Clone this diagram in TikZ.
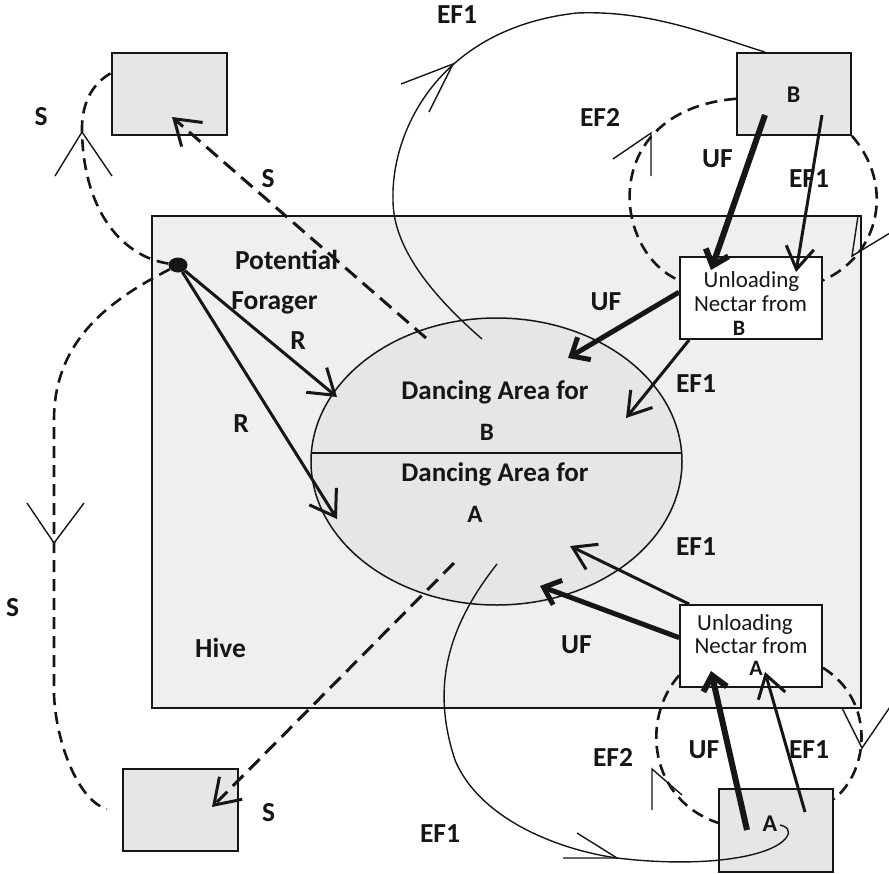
\documentclass[tikz,border=0pt]{standalone}
\usepackage{fontspec}
\setmainfont{Carlito}
\usetikzlibrary{arrows.meta,shapes.geometric,calc}
\definecolor{ink}{HTML}{161616}
\definecolor{hivefill}{HTML}{EFEFEF}
\definecolor{areafill}{HTML}{E6E6E6}
\begin{document}
\begin{tikzpicture}[x=1pt,y=-1pt,
  lbl/.style={font=\bfseries\fontsize{27.5}{30}\selectfont, inner sep=0pt, anchor=base, text=ink},
  dlbl/.style={font=\bfseries\fontsize{27}{30}\selectfont, inner sep=0pt, anchor=base, text=ink},
  letterlbl/.style={font=\bfseries\fontsize{24}{26}\selectfont, inner sep=0pt, anchor=base, text=ink},
  ulbl/.style={font=\fontsize{23}{25}\selectfont, inner sep=0pt, anchor=base, text=ink},
  hivebox/.style={draw=ink, line width=2pt, fill=hivefill, minimum width=709pt, minimum height=492pt, inner sep=0pt},
  srcbox/.style={draw=ink, line width=1.8pt, fill=areafill, minimum width=115pt, minimum height=82pt, inner sep=0pt},
  unlbox/.style={draw=ink, line width=1.8pt, fill=white, minimum width=142pt, minimum height=82pt, inner sep=0pt},
  dancearea/.style={ellipse, draw=ink, line width=1.5pt, fill=areafill, minimum width=371pt, minimum height=287pt, inner sep=0pt},
  thinline/.style={draw=ink, line width=1.4pt},
  sdash/.style={draw=ink, line width=3pt, dash pattern=on 15pt off 8pt},
  loopdash/.style={draw=ink, line width=2.6pt, dash pattern=on 12pt off 7pt},
  heavy/.style={draw=ink, line width=6pt, -{Straight Barb[length=14pt,width=24pt]}},
  heavier/.style={draw=ink, line width=5pt, -{Straight Barb[length=15pt,width=26pt]}},
  medium/.style={draw=ink, line width=3pt, -{Straight Barb[length=22pt,width=28pt]}},
  rarrow/.style={draw=ink, line width=3pt, -{Straight Barb[length=24pt,width=32pt]}},
  sarrow/.style={sdash, -{Straight Barb[length=24pt,width=32pt,line width=3pt]}}
]
\useasboundingbox (0,0) rectangle (889,873);

% hive and dancing area
\node[hivebox] (hive) at (506.5,462) {};
\node[dancearea] (dance) at (496.5,461.5) {};
\coordinate (divL) at (311.3,453);
\coordinate (divR) at (681.7,453);
\draw[thinline, line width=1.5pt] (divL) -- (divR);

% labels
\node[dlbl] (dab) at (495,399) {Dancing Area for};
\node[letterlbl, font=\bfseries\fontsize{25}{27}\selectfont] (db) at (487,440) {B};
\node[dlbl] (daa) at (495,481) {Dancing Area for};
\node[letterlbl, font=\bfseries\fontsize{25}{27}\selectfont] (dA) at (475,522) {A};
\node[lbl] (pot) at (286.5,269) {Potential};
\node[lbl] (forg) at (274.5,309) {Forager};
\node[lbl] (r1l) at (298,349) {R};
\node[lbl] (r2l) at (241,432) {R};
\node[lbl] (s1l) at (41,125) {S};
\node[lbl] (s2l) at (268,187) {S};
\node[lbl] (s3l) at (12.5,616) {S};
\node[lbl] (s4l) at (268.5,821) {S};
\node[lbl] (hivel) at (220.5,657) {Hive};
\node[lbl] (ef1top) at (457,23) {EF1};
\node[lbl] (ef2b) at (600,126) {EF2};
\node[lbl] (ufb) at (717.5,167) {UF};
\node[lbl] (ef1b) at (809,187) {EF1};
\node[lbl] (ufbd) at (606,310) {UF};
\node[lbl] (ef1bd) at (696,392) {EF1};
\node[lbl] (ef1ad) at (696,555) {EF1};
\node[lbl] (ufad) at (576.5,653) {UF};
\node[lbl] (ef2a) at (613,766) {EF2};
\node[lbl] (ufa) at (704,758) {UF};
\node[lbl] (ef1a) at (809,758) {EF1};
\node[lbl] (ef1bot) at (440,842) {EF1};

% boxes
\node[srcbox] (boxTL) at (169.5,94) {};
\node[srcbox] (boxBL) at (180.5,810) {};
\node[srcbox, minimum width=114pt] (boxB) at (794,94) {};
\node[srcbox, minimum width=114pt, minimum height=83pt] (boxA) at (776,830.5) {};
\node[letterlbl] (bl) at (793.5,102) {B};
\node[letterlbl] (al) at (770,831) {A};
\node[unlbox] (unlB) at (751,298) {};
\node[unlbox] (unlA) at (751,646) {};
\node[ulbl] (ub1) at (751.5,287) {Unloading};
\node[ulbl] (ub2) at (750.5,311) {Nectar from};
\node[letterlbl, font=\bfseries\fontsize{22}{24}\selectfont] (ub3) at (739,335) {B};
\node[ulbl] (ua1) at (745,630) {Unloading};
\node[ulbl] (ua2) at (751,653) {Nectar from};
\node[letterlbl, font=\bfseries\fontsize{22}{24}\selectfont] (ua3) at (756,675) {A};

% potential forager dot
\node[ellipse, fill=ink, minimum width=19pt, minimum height=15pt, inner sep=0pt] (dot) at (178,265) {};

% ---- EF1 curve from dancing area to B
\coordinate (eftS) at (482,339);
\coordinate (eftM) at (393,200);
\coordinate (eftT) at (577,13);
\coordinate (eftE) at ($(boxB.north west)!0.25!(boxB.north east)$);
\draw[thinline] (eftS) .. controls (420,285) and (393,240) .. (eftM)
  .. controls (391,130) and (440,28) .. (eftT)
  .. controls (650,10) and (710,35) .. (eftE);
\coordinate (h3) at (453,64);
\draw[thinline] (401,84) -- (h3) -- (429,112);

% ---- EF1 curve from dancing area to A
\coordinate (efbS) at (497,564);
\coordinate (efbM) at (455,760);
\coordinate (efbH) at (617,858);
\coordinate (efbK) at (786,838);
\coordinate (efbE) at (780,825);
\draw[thinline] (efbS) .. controls (445,630) and (432,690) .. (efbM)
  .. controls (480,820) and (560,850) .. (efbH)
  .. controls (700,868) and (770,858) .. (efbK)
  .. controls (792,830) and (786,826) .. (efbE);
\draw[thinline] (577,833) -- (efbH) -- (563,858);

% ---- EF2 loop around B
\coordinate (bLE) at ($(unlB.north west)!0.29!(unlB.south west)$);
\coordinate (bRE) at ($(unlB.north east)!0.29!(unlB.south east)$);
\draw[loopdash] (boxB) .. controls (600,110) and (610,250) .. (bLE);
\draw[loopdash] (boxB.south east) .. controls (895,185) and (880,255) .. (bRE);
\coordinate (h5) at (651,133);
\draw[thinline] (613,159) -- (h5) -- (651,176);
\coordinate (h6) at (852,256);
\draw[thinline] (858,216) -- (h6) -- (890,233);

% ---- EF2 loop around A
\coordinate (aLS) at ($(unlA.north west)!0.85!(unlA.south west)$);
\coordinate (aLE) at ($(boxA.north west)!0.41!(boxA.south west)$);
\coordinate (aRS) at ($(unlA.north east)!0.76!(unlA.south east)$);
\coordinate (aRE) at ($(boxA.north east)!0.13!(boxA.south east)$);
\draw[loopdash] (aLS) .. controls (640,720) and (650,800) .. (aLE);
\draw[loopdash] (aRS) .. controls (875,700) and (870,770) .. (aRE);
\coordinate (h7) at (652,769);
\draw[thinline] (652,810) -- (h7) -- (682,795);
\coordinate (h8) at (862,748);
\draw[thinline] (842,708) -- (h8) -- (890,707);

% ---- scout loops (S)
\coordinate (tlE) at ($(boxTL.north west)!0.25!(boxTL.south west)$);
\coordinate (tlM) at (82,132);
\draw[loopdash] (dot) .. controls (125,257) and (84,215) .. (tlM)
  .. controls (81,100) and (95,82) .. (tlE);
\draw[thinline] (55,176) -- (tlM) -- (112,176);

\coordinate (llA) at (54,420);
\coordinate (llB) at (54,683);
\coordinate (llE) at (107,809);
\draw[loopdash] (dot) .. controls (110,300) and (54,340) .. (llA) -- (llB)
  .. controls (52,730) and (75,800) .. (llE);
\coordinate (h2) at (54,543);
\draw[thinline] (27,503) -- (h2) -- (84,503);

% ---- dashed S arrows from dancing area to sites
\coordinate (s1S) at (426,338);
\coordinate (s1E) at (172,117);
\coordinate (s2S) at (454,563);
\coordinate (s2E) at (212,807);
\draw[sarrow] (s1S) -- (s1E);
\draw[sarrow] (s2S) -- (s2E);

% ---- recruitment arrows
\coordinate (r1E) at (337,397);
\coordinate (r2E) at (337,519);
\draw[rarrow] (dot) -- (r1E);
\draw[rarrow] (dot) -- (r2E);

% ---- unloading / foraging arrows
\coordinate (ufBs) at (765,115);
\coordinate (ufBe) at (711,270);
\draw[heavy] (ufBs) -- (ufBe);
\coordinate (efBs) at (822,115);
\coordinate (efBe) at (796,272);
\draw[medium] (efBs) -- (efBe);
\coordinate (ufBds) at ($(unlB.north west)!0.43!(unlB.south west)$);
\coordinate (ufBde) at (568,358);
\draw[heavier] (ufBds) -- (ufBde);
\coordinate (efBds) at ($(unlB.south west)!0.07!(unlB.south east)$);
\coordinate (efBde) at (626,418);
\draw[medium] (efBds) -- (efBde);
\coordinate (efAds) at ($(unlA.north west)!0.07!(unlA.north east)$);
\coordinate (efAde) at (570,546);
\draw[medium] (efAds) -- (efAde);
\coordinate (ufAds) at ($(unlA.north west)!0.40!(unlA.south west)$);
\coordinate (ufAde) at (540,586);
\draw[heavier] (ufAds) -- (ufAde);
\coordinate (ufAs) at (747,830);
\coordinate (ufAe) at (711,671);
\draw[heavy] (ufAs) -- (ufAe);
\coordinate (efAs) at (805,812);
\coordinate (efAe) at (765,672);
\draw[medium] (efAs) -- (efAe);
\end{tikzpicture}
\end{document}
